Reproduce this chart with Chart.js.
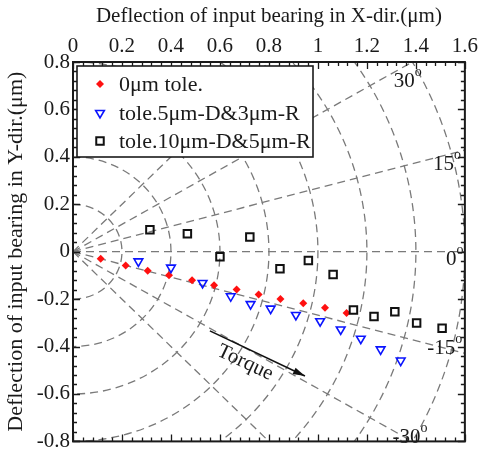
<!DOCTYPE html>
<html>
<head>
<meta charset="utf-8">
<script src="https://cdn.jsdelivr.net/npm/chart.js@4/dist/chart.umd.min.js"></script>
<style>
  html, body { margin: 0; padding: 0; background: #fff; }
  #wrap { width: 481px; height: 457px; }
</style>
</head>
<body>
<div id="wrap"><canvas id="c" width="481" height="457"></canvas></div>
<script>
// Deflection of the input bearing (µm) for three tolerance cases
const seriesNames = ['0\u03bcm tole.', 'tole.5\u03bcm-D&3\u03bcm-R', 'tole.10\u03bcm-D&5\u03bcm-R'];

const tole0X = [0.113, 0.215, 0.305, 0.392, 0.486, 0.576, 0.668, 0.758, 0.847, 0.940, 1.029, 1.117];
const tole0Y = [-0.030, -0.058, -0.080, -0.099, -0.120, -0.142, -0.159, -0.180, -0.199, -0.217, -0.236, -0.258];

const tole5X = [0.267, 0.400, 0.529, 0.644, 0.725, 0.807, 0.910, 1.009, 1.093, 1.175, 1.256, 1.338];
const tole5Y = [-0.041, -0.067, -0.132, -0.188, -0.221, -0.240, -0.267, -0.293, -0.328, -0.367, -0.412, -0.459];

const tole10X = [0.314, 0.467, 0.600, 0.722, 0.845, 0.961, 1.062, 1.145, 1.229, 1.314, 1.403, 1.507];
const tole10Y = [0.093, 0.076, -0.021, 0.062, -0.072, -0.037, -0.096, -0.246, -0.273, -0.253, -0.301, -0.323];

// Axis ranges and polar reference grid
const xTicks = [0, 0.2, 0.4, 0.6, 0.8, 1.0, 1.2, 1.4, 1.6];
const yTicks = [-0.8, -0.6, -0.4, -0.2, 0, 0.2, 0.4, 0.6, 0.8];
const ringRadii = [0.2, 0.4, 0.6, 0.8, 1.0, 1.2, 1.4, 1.6];
const spokeAngles = [-45, -30, -15, 0, 15, 30, 45];
const labelledAngles = [30, 15, 0, -15, -30];

const FONT = "'Liberation Serif', 'Times New Roman', serif";
const TEXT = '#1a1a1a';
const FS = 21;

function toPoints(xs, ys) { return xs.map((v, i) => ({ x: v, y: ys[i] })); }
function fmt(v) { return String(Math.round(v * 10) / 10); }

// Marker styles shared by the plotted points and the legend
const markers = [
  { style: 'diamond', color: '#ff1010', size: 4 },
  { style: 'triDown', color: '#0a14ff', size: 5 },
  { style: 'square', color: '#111111', size: 5.2 }
];

function drawMarker(ctx, m, x, y) {
  ctx.save();
  ctx.setLineDash([]);
  ctx.strokeStyle = m.color;
  ctx.fillStyle = m.color;
  ctx.beginPath();
  if (m.style === 'diamond') {
    const r = m.size;
    ctx.moveTo(x, y - r); ctx.lineTo(x + r, y); ctx.lineTo(x, y + r); ctx.lineTo(x - r, y); ctx.closePath();
    ctx.fill();
  } else if (m.style === 'triDown') {
    const r = m.size;
    ctx.lineWidth = 1.6;
    ctx.moveTo(x - r * 0.87, y - r * 0.5); ctx.lineTo(x + r * 0.87, y - r * 0.5); ctx.lineTo(x, y + r); ctx.closePath();
    ctx.stroke();
  } else {
    const h = m.size * 0.72;
    ctx.lineWidth = 2;
    ctx.rect(x - h, y - h, 2 * h, 2 * h);
    ctx.stroke();
  }
  ctx.restore();
}

// Dashed polar grid: concentric rings and radial spokes from the origin
const polarGrid = {
  id: 'polarGrid',
  beforeDatasetsDraw(chart) {
    const { ctx, chartArea: a, scales: { x, y } } = chart;
    const ox = x.getPixelForValue(0), oy = y.getPixelForValue(0);
    ctx.save();
    ctx.beginPath();
    ctx.rect(a.left, a.top, a.right - a.left, a.bottom - a.top);
    ctx.clip();
    ctx.strokeStyle = '#7a7a7a';
    ctx.lineWidth = 1.3;
    ctx.setLineDash([8, 5]);
    ringRadii.forEach(r => {
      const rx = x.getPixelForValue(r) - ox;
      const ry = oy - y.getPixelForValue(r);
      ctx.beginPath();
      ctx.ellipse(ox, oy, rx, ry, 0, -Math.PI / 2, Math.PI / 2);
      ctx.stroke();
    });
    spokeAngles.forEach(d => {
      const t = d * Math.PI / 180, R = 2.2;
      ctx.beginPath();
      ctx.moveTo(ox, oy);
      ctx.lineTo(x.getPixelForValue(R * Math.cos(t)), y.getPixelForValue(R * Math.sin(t)));
      ctx.stroke();
    });
    ctx.restore();
  }
};

// Angle captions placed just inside the frame along each labelled spoke
const angleLabelAt = { '30': [1.367, 0.726], '15': [1.527, 0.375], '0': [1.559, -0.025], '-15': [1.518, -0.400], '-30': [1.376, -0.775] };

// Frame, inward ticks, angle captions and the torque arrow
const frameAndNotes = {
  id: 'frameAndNotes',
  afterDatasetsDraw(chart) {
    const { ctx, chartArea: a, scales: { x, y } } = chart;
    ctx.save();
    ctx.setLineDash([]);
    ctx.strokeStyle = '#1a1a1a';
    ctx.lineWidth = 1.3;
    // ticks
    for (let i = 0; i <= 40; i++) {
      const v = i * 0.04, px = Math.round(x.getPixelForValue(v)) + 0.5;
      const len = i % 5 === 0 ? 7 : 4;
      ctx.beginPath();
      ctx.moveTo(px, a.top); ctx.lineTo(px, a.top + len);
      ctx.moveTo(px, a.bottom); ctx.lineTo(px, a.bottom - len);
      ctx.stroke();
    }
    for (let i = 0; i <= 40; i++) {
      const v = -0.8 + i * 0.04, py = Math.round(y.getPixelForValue(v)) + 0.5;
      const len = i % 5 === 0 ? 7 : 4;
      ctx.beginPath();
      ctx.moveTo(a.left, py); ctx.lineTo(a.left + len, py);
      ctx.moveTo(a.right, py); ctx.lineTo(a.right - len, py);
      ctx.stroke();
    }
    ctx.lineWidth = 2;
    ctx.strokeRect(a.left, a.top, a.right - a.left, a.bottom - a.top);

    // angle captions with superscript degree mark
    ctx.fillStyle = TEXT;
    ctx.textBaseline = 'middle';
    labelledAngles.forEach(d => {
      const p = angleLabelAt[String(d)];
      const cx = x.getPixelForValue(p[0]), cy = y.getPixelForValue(p[1]);
      ctx.font = FS + 'px ' + FONT;
      const s = String(d);
      const w1 = ctx.measureText(s).width;
      ctx.font = '14px ' + FONT;
      const w2 = ctx.measureText('o').width;
      const left = cx - (w1 + w2) / 2;
      ctx.font = FS + 'px ' + FONT;
      ctx.textAlign = 'left';
      ctx.fillText(s, left, cy + 2);
      ctx.font = '14px ' + FONT;
      ctx.fillText('o', left + w1, cy - 7);
    });

    // torque arrow
    const x0 = x.getPixelForValue(0.559), y0 = y.getPixelForValue(-0.334);
    const x1 = x.getPixelForValue(0.947), y1 = y.getPixelForValue(-0.524);
    const ang = Math.atan2(y1 - y0, x1 - x0);
    ctx.strokeStyle = '#111';
    ctx.fillStyle = '#111';
    ctx.lineWidth = 1.6;
    ctx.beginPath(); ctx.moveTo(x0, y0); ctx.lineTo(x1, y1); ctx.stroke();
    ctx.beginPath();
    ctx.moveTo(x1, y1);
    ctx.lineTo(x1 - 12 * Math.cos(ang) + 3.5 * Math.sin(ang), y1 - 12 * Math.sin(ang) - 3.5 * Math.cos(ang));
    ctx.lineTo(x1 - 12 * Math.cos(ang) - 3.5 * Math.sin(ang), y1 - 12 * Math.sin(ang) + 3.5 * Math.cos(ang));
    ctx.closePath();
    ctx.fill();

    const tx = x.getPixelForValue(0.703), ty = y.getPixelForValue(-0.468);
    ctx.translate(tx, ty);
    ctx.rotate(ang);
    ctx.font = FS + 'px ' + FONT;
    ctx.textAlign = 'center';
    ctx.textBaseline = 'middle';
    ctx.fillStyle = TEXT;
    ctx.fillText('Torque', 0, 0);
    ctx.restore();
  }
};

// Boxed legend in the upper-left corner of the plot
const boxLegend = {
  id: 'boxLegend',
  afterDraw(chart) {
    const { ctx, chartArea: a } = chart;
    const bx = a.left + 4, by = a.top + 4, bw = 236, bh = 91;
    ctx.save();
    ctx.fillStyle = '#fff';
    ctx.fillRect(bx, by, bw, bh);
    ctx.strokeStyle = '#1a1a1a';
    ctx.lineWidth = 1.6;
    ctx.strokeRect(bx, by, bw, bh);
    ctx.font = '22px ' + FONT;
    ctx.textBaseline = 'middle';
    ctx.textAlign = 'left';
    ctx.fillStyle = TEXT;
    const rows = [by + 18, by + 47, by + 75];
    seriesNames.forEach((n, i) => {
      drawMarker(ctx, markers[i], bx + 23, rows[i]);
      ctx.fillStyle = TEXT;
      ctx.fillText(n, bx + 42, rows[i] + 1);
    });
    ctx.restore();
  }
};

// Custom point drawing so each series keeps its marker shape
const markerPoints = {
  id: 'markerPoints',
  afterDatasetsDraw(chart) {
    const { ctx } = chart;
    chart.data.datasets.forEach((ds, i) => {
      const meta = chart.getDatasetMeta(i);
      meta.data.forEach(el => drawMarker(ctx, markers[i], el.x, el.y));
    });
  }
};

new Chart(document.getElementById('c'), {
  type: 'scatter',
  data: {
    datasets: [
      { label: seriesNames[0], data: toPoints(tole0X, tole0Y), pointRadius: 0, showLine: false },
      { label: seriesNames[1], data: toPoints(tole5X, tole5Y), pointRadius: 0, showLine: false },
      { label: seriesNames[2], data: toPoints(tole10X, tole10Y), pointRadius: 0, showLine: false }
    ]
  },
  options: {
    responsive: false,
    animation: false,
    layout: { padding: { top: 0, left: 0, right: 16, bottom: 7 } },
    plugins: { legend: { display: false }, tooltip: { enabled: false } },
    scales: {
      x: {
        type: 'linear', position: 'top', min: 0, max: 1.6,
        afterBuildTicks: s => { s.ticks = xTicks.map(v => ({ value: v })); },
        afterFit: s => { s.height = 62; },
        grid: { display: false, drawTicks: false },
        border: { display: false },
        ticks: { font: { family: FONT, size: FS }, color: TEXT, padding: 3, maxRotation: 0, callback: v => fmt(v) },
        title: { display: true, text: 'Deflection of input bearing in X-dir.(\u03bcm)', font: { family: FONT, size: FS }, color: TEXT, padding: { top: 4, bottom: 0 } }
      },
      y: {
        type: 'linear', position: 'left', min: -0.8, max: 0.8,
        afterBuildTicks: s => { s.ticks = yTicks.map(v => ({ value: v })); },
        afterFit: s => { s.width = 73; },
        grid: { display: false, drawTicks: false },
        border: { display: false },
        ticks: { font: { family: FONT, size: FS }, color: TEXT, padding: 3, callback: v => fmt(v) },
        title: { display: true, text: 'Deflection of input bearing in Y-dir.(\u03bcm)', font: { family: FONT, size: 22 }, color: TEXT, padding: { top: 3, bottom: 0 } }
      }
    }
  },
  plugins: [polarGrid, markerPoints, frameAndNotes, boxLegend]
});
</script>
</body>
</html>
